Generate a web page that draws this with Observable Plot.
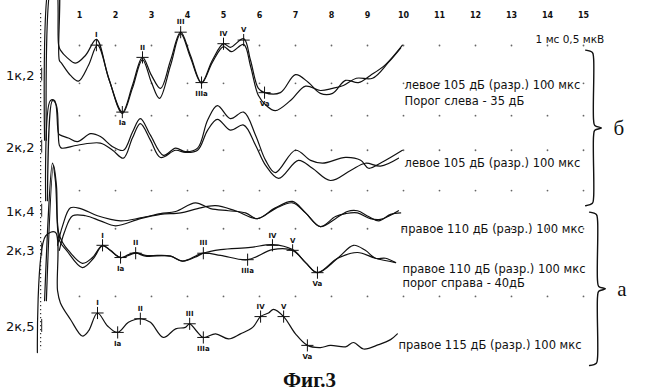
<!DOCTYPE html>
<html><head><meta charset="utf-8">
<script src="https://cdn.jsdelivr.net/npm/d3@7"></script>
<script src="https://cdn.jsdelivr.net/npm/@observablehq/plot@0.6"></script>
<style>
body{margin:0;background:#fff;width:650px;height:392px;overflow:hidden}
#cap{height:24px;line-height:24px;font:bold 21px "Liberation Serif",serif;padding-left:283px;color:#111}
</style></head><body><div id="chart"></div><div id="cap">Фиг.3</div>
<script>
// time axis tick labels (ms)
const xTicks = [1,2,3,4,5,6,7,8,9,10,11,12,13,14,15];
// channels and their vertical offsets (µV)
const channels = ["1к,2","2к,2","1к,4","2к,3","2к,5"];
const bases = [-1.04,-2.04,-2.96,-3.54,-4.53];
const chLabelShift = [0,0,0.03,0.07,0];

// traces: [time ms, amplitude µV]
const k12a = [[0.03,-0.90],[0.19,1.32],[0.33,1.32],[0.42,0.42],[0.47,0.35],[0.67,0.24],[0.89,0.17],[1.17,0.28],[1.47,0.50],[1.81,-0.04],[2.19,-0.51],[2.47,-0.14],[2.75,0.25],[3.0,0],[3.25,-0.18],[3.53,0.21],[3.81,0.6],[4.08,0.28],[4.39,-0.10],[4.69,0.21],[5.0,0.44],[5.19,0.39],[5.56,0.51],[5.75,0.21],[5.97,-0.18],[6.14,-0.24],[6.58,-0.24],[7.0,0.01],[7.36,-0.10],[7.69,-0.25],[8.03,-0.25],[8.39,-0.07],[8.75,-0.10],[9.08,0],[9.5,0.15],[9.97,0.42]];
const k12b = [[0.08,-0.90],[0.25,1.32],[0.39,1.32],[0.44,0.21],[0.5,0.17],[0.75,0],[0.97,-0.08],[1.25,0.14],[1.5,0.42],[1.83,-0.07],[2.19,-0.53],[2.47,-0.18],[2.75,0.22],[3.0,-0.10],[3.22,-0.32],[3.53,0.14],[3.81,0.58],[4.08,0.25],[4.39,-0.11],[4.69,0.18],[5.0,0.40],[5.22,0.33],[5.56,0.43],[5.75,0.13],[5.97,-0.28],[6.19,-0.42],[6.44,-0.49],[6.86,-0.35],[7.28,-0.15],[7.69,-0.21],[8.03,-0.18],[8.33,-0.14],[8.69,-0.04],[9.14,-0.04],[9.58,0.18],[9.92,0.38]];
const k22a = [[0.06,-0.74],[0.19,0.65],[0.31,0.65],[0.42,0.19],[0.47,0.17],[0.69,0.13],[0.94,0.08],[1.31,0.19],[1.58,0.15],[1.92,0.01],[2.22,-0.04],[2.47,0.21],[2.69,0.40],[2.97,0.17],[3.33,-0.11],[3.67,-0.01],[3.94,-0.06],[4.28,-0.01],[4.56,0.38],[4.83,0.58],[5.19,0.40],[5.56,0.49],[5.89,0.17],[6.17,-0.18],[6.44,-0.35],[7.0,-0.04],[7.42,-0.18],[7.75,-0.22],[8.39,-0.14],[8.81,-0.18],[9.03,-0.29],[9.39,-0.21],[9.97,-0.04]];
const k22b = [[0.11,-0.74],[0.25,0.65],[0.36,0.58],[0.44,0.03],[0.5,-0.01],[0.94,0.03],[1.58,0.06],[1.92,-0.04],[2.22,-0.15],[2.47,0.13],[2.69,0.33],[2.97,0.10],[3.25,-0.14],[3.67,-0.04],[3.94,-0.07],[4.28,-0.04],[4.56,0.24],[4.83,0.39],[5.19,0.24],[5.56,0.31],[5.89,0.03],[6.17,-0.25],[6.53,-0.43],[7.08,-0.18],[7.47,-0.29],[7.97,-0.46],[8.53,-0.32],[8.94,-0.22],[9.36,-0.26],[9.86,-0.15]];
const k14a = [[0.39,-0.44],[0.53,-0.17],[0.75,0.08],[1.03,0.07],[1.5,-0.03],[2.14,-0.10],[2.69,-0.06],[3.25,0],[3.67,0.03],[4.22,0.15],[4.64,0.07],[5.14,0.04],[5.61,0.01],[5.94,-0.07],[6.44,0.08],[6.92,0.17],[7.28,0.01],[7.69,-0.18],[8.11,-0.07],[8.44,0.03],[8.72,0.04],[9.03,-0.04],[9.31,-0.10],[9.64,-0.01],[9.92,0.01]];
const k14b = [[0.44,-0.51],[0.58,-0.26],[0.81,-0.03],[1.17,-0.03],[1.58,-0.10],[2.0,-0.17],[2.69,-0.07],[3.25,-0.01],[3.81,0.01],[4.28,0.07],[4.78,0.11],[5.33,0.04],[5.94,-0.07],[6.44,0.07],[6.92,0.15],[7.28,0.01],[7.69,-0.18],[8.11,-0.04],[8.39,0],[8.72,0.01],[9.08,-0.07],[9.36,-0.08],[9.86,0.04]];
const k23a = [[0.03,-0.63],[0.25,1.28],[0.33,1.04],[0.42,0.32],[0.53,0.18],[0.69,0.07],[1.08,-0.11],[1.36,-0.03],[1.64,0.14],[1.86,0.07],[2.14,-0.03],[2.36,0.01],[2.56,0.04],[2.83,0],[3.19,0],[3.53,-0.01],[3.86,-0.08],[4.28,-0.01],[4.44,0.03],[4.92,0.08],[5.75,0.11],[6.36,0.15],[6.92,0.08],[7.28,-0.10],[7.61,-0.24],[8.17,-0.04],[8.61,0.14],[8.94,0.07],[9.22,-0.04],[9.5,-0.04],[9.78,-0.10]];
const k23b = [[0.08,-0.63],[0.28,1.25],[0.36,0.97],[0.44,0.21],[0.64,0.07],[1.08,-0.17],[1.39,-0.04],[1.64,0.13],[2.14,-0.03],[2.56,0.03],[2.83,-0.01],[3.53,-0.01],[3.86,-0.08],[4.44,0.03],[4.92,0],[5.67,-0.06],[6.36,0.08],[6.92,0.07],[7.28,-0.10],[7.61,-0.24],[8.17,-0.04],[8.72,0.04],[9.22,-0.04],[9.78,-0.10]];
const k25 = [[-0.17,-0.36],[0.06,1.26],[0.33,1.31],[0.39,0.5],[0.47,0.33],[0.75,0.10],[1.08,-0.13],[1.25,-0.06],[1.5,0.19],[1.78,0.01],[2.06,-0.08],[2.36,0.06],[2.69,0.11],[2.97,0.06],[3.33,-0.15],[3.67,-0.03],[3.94,-0.01],[4.06,0.04],[4.25,-0.06],[4.44,-0.15],[4.78,-0.10],[5.14,-0.17],[5.47,-0.10],[5.81,-0.01],[6.03,0.14],[6.25,0.19],[6.39,0.24],[6.67,0.14],[7.0,-0.10],[7.33,-0.26],[7.69,-0.29],[7.97,-0.26],[8.39,-0.28],[8.61,-0.22],[8.89,-0.31],[9.31,-0.25],[9.64,-0.18],[9.83,-0.10]];

// wave peak markers
const waveNames = ["I","Ia","II","III","IIIa","IV","V","Va"];
const k12Marks = [[1.47,0.42],[2.19,-0.51],[2.75,0.25],[3.81,0.6],[4.39,-0.10],[5.0,0.44],[5.56,0.49],[6.14,-0.24]];
const k23Marks = [[1.64,0.14],[2.14,-0.03],[2.56,0.03],[4.44,0.03],[5.67,-0.06],[6.36,0.14],[6.92,0.07],[7.61,-0.24]];
const k25Marks = [[1.5,0.19],[2.06,-0.08],[2.69,0.11],[4.06,0.04],[4.44,-0.15],[6.03,0.14],[6.67,0.14],[7.33,-0.26]];

// annotations
const rightLabels = [
  {ch:0, text:"левое 105 дБ (разр.) 100 мкс", t:10.03, dv:-0.14},
  {ch:0, text:"Порог слева - 35 дБ", t:10.03, dv:-0.36},
  {ch:1, text:"левое 105 дБ (разр.) 100 мкс", t:10.03, dv:-0.22},
  {ch:2, text:"правое 110 дБ (разр.) 100 мкс", t:9.92, dv:-0.22},
  {ch:3, text:"правое 110 дБ (разр.) 100 мкс", t:9.97, dv:-0.20},
  {ch:3, text:"порог справа - 40дБ", t:9.97, dv:-0.39},
  {ch:4, text:"правое 115 дБ (разр.) 100 мкс", t:9.86, dv:-0.26}
];
const calib = [{text:"1 мс 0,5 мкВ", t:13.67, y:-0.54}];
const braces = [{label:"б", t:15.28, top:-0.69, bottom:-2.85}, {label:"а", t:15.39, top:-2.94, bottom:-5.07}];
const gridRows = [-0.625,-1.15,-1.6,-2.08,-2.64,-3.17,-4.11];
const borderX = -0.08, borderSpan = [-0.18,-4.85];

const traces = [{ch:0,pts:k12a},{ch:0,pts:k12b},{ch:1,pts:k22a},{ch:1,pts:k22b},{ch:2,pts:k14a},{ch:2,pts:k14b},{ch:3,pts:k23a},{ch:3,pts:k23b},{ch:4,pts:k25}];
const lineData = traces.flatMap((tr,i)=>tr.pts.map(([t,v])=>({id:i,t,y:bases[tr.ch]+v})));
const markSets = [{ch:0,pts:k12Marks},{ch:3,pts:k23Marks},{ch:4,pts:k25Marks}];
const markData = markSets.flatMap(s=>s.pts.map(([t,v],j)=>({t,y:bases[s.ch]+v,name:waveNames[j],below:waveNames[j].endsWith("a")})));
const gridData = gridRows.flatMap(y=>xTicks.map(t=>({t,y})));
function bracePoints(b){
  const dx=0.22, dy=0.11, mid=(b.top+b.bottom)/2;
  return [[b.t-dx,b.top],[b.t-dx*0.15,b.top-dy*0.3],[b.t,b.top-dy],[b.t,mid+dy],[b.t+dx*0.15,mid+dy*0.3],[b.t+dx,mid],
          [b.t+dx*0.15,mid-dy*0.3],[b.t,mid-dy],[b.t,b.bottom+dy],[b.t-dx*0.15,b.bottom+dy*0.3],[b.t-dx,b.bottom]]
    .map(([t,y])=>({t,y,id:b.label}));
}
const braceData = braces.flatMap(bracePoints);

const chart = Plot.plot({
  width:650, height:368,
  marginTop:19, marginLeft:43, marginRight:67, marginBottom:0,
  style:{fontFamily:"DejaVu Sans", background:"#fff", color:"#111"},
  x:{domain:[0,15], axis:null},
  y:{domain:[-368/72,0], range:[368,0], axis:null},
  marks:[
    Plot.dot(gridData,{x:"t",y:"y",r:0.9,fill:"#666",stroke:null}),
    Plot.ruleX([borderX],{y1:borderSpan[0],y2:borderSpan[1],stroke:"#333",strokeDasharray:"1.2,2.8",strokeWidth:1.2}),
    Plot.line(lineData,{x:"t",y:"y",z:"id",curve:"catmull-rom",stroke:"#111",strokeWidth:1.2}),
    Plot.dot(markData,{x:"t",y:"y",symbol:"plus",r:4,stroke:"#111",strokeWidth:1}),
    Plot.text(markData.filter(d=>!d.below),{x:"t",y:"y",text:"name",dy:-10,fontSize:7,fontWeight:"bold"}),
    Plot.text(markData.filter(d=>d.below),{x:"t",y:"y",text:"name",dy:11,fontSize:7,fontWeight:"bold"}),
    Plot.text(channels,{x:-0.25,y:(d,i)=>bases[i]+chLabelShift[i],text:d=>d,textAnchor:"end",fontSize:13}),
    Plot.ruleX(channels,{x:-0.05,y1:(d,i)=>bases[i]+chLabelShift[i]+0.1,y2:(d,i)=>bases[i]+chLabelShift[i]-0.08,stroke:"#222",strokeWidth:1}),
    Plot.text(rightLabels,{x:"t",y:d=>bases[d.ch]+d.dv,text:"text",textAnchor:"start",fontSize:11.5}),
    Plot.text(calib,{x:"t",y:"y",text:"text",textAnchor:"start",fontSize:10.5}),
    Plot.line(braceData,{x:"t",y:"y",z:"id",curve:"catmull-rom",stroke:"#111",strokeWidth:1.4}),
    Plot.text(braces,{x:d=>d.t+0.55,y:d=>(d.top+d.bottom)/2,text:"label",textAnchor:"start",fontSize:21,fontFamily:"Liberation Serif"}),
    Plot.axisX(xTicks,{anchor:"top",tickSize:0,tickPadding:2,fontSize:8,fontWeight:"bold",label:null})
  ]
});
document.getElementById("chart").appendChild(chart);
</script></body></html>
